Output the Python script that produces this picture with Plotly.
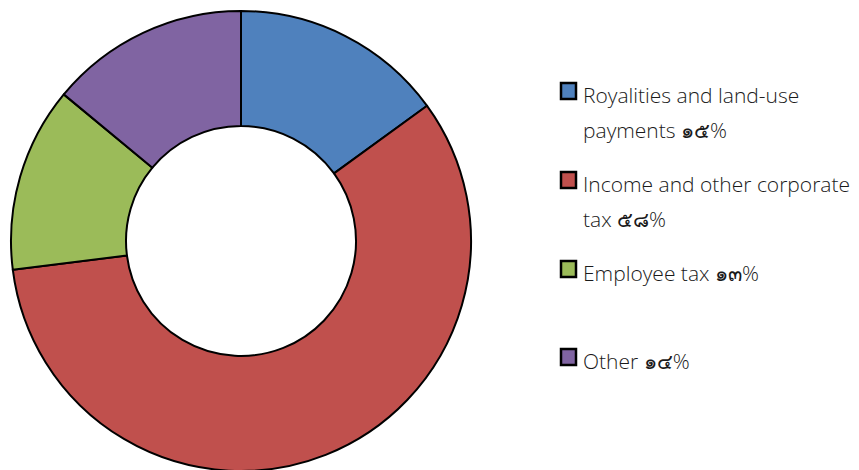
import plotly.graph_objects as go

labels = ["Royalities and land-use payments", "Income and other corporate tax",
          "Employee tax", "Other"]
values = [15, 58, 13, 14]
colors = ["#4F81BD", "#C0504D", "#9BBB59", "#8064A2"]
# legend text lines (wrapped as in reference)
legend_lines = [["Royalities and land-use", "payments {v}"],
                ["Income and other corporate", "tax {v}"],
                ["Employee tax {v}"],
                ["Other {v}"]]

THAI = "๐๑๒๓๔๕๖๗๘๙"
def thai_num(n):
    return "".join(THAI[int(d)] for d in str(n))

W, H = 859, 470
OFF = 8  # page body margin
fig = go.Figure(go.Pie(
    labels=labels, values=values, hole=0.5, sort=False, direction="clockwise",
    rotation=0, textinfo="none", hoverinfo="label+percent",
    marker=dict(colors=colors, line=dict(color="black", width=2)),
    domain=dict(x=[(10 - OFF) / W, (472 - OFF) / W],
                y=[1 - (471 - OFF) / H, 1 - (11 - OFF) / H]),
    showlegend=False,
))

font_family = "Open Sans, Noto Sans, sans-serif"
item_centers = [94, 183, 272, 360]
line_gap = 35
shapes = []
annotations = []
for i, lines in enumerate(legend_lines):
    c = item_centers[i] - OFF
    shapes.append(dict(type="rect", xref="paper", yref="paper",
                       x0=(561 - OFF) / W, x1=(576 - OFF) / W,
                       y0=1 - (c - 11) / H, y1=1 - (c + 5) / H,
                       fillcolor=colors[i], line=dict(color="black", width=2.5)))
    for j, ln in enumerate(lines):
        annotations.append(dict(
            text=ln.format(v=thai_num(values[i]) + "%"), xref="paper", yref="paper",
            x=(581 - OFF) / W, y=1 - (c + 1 + j * line_gap) / H, xanchor="left", yanchor="middle",
            showarrow=False,
            font=dict(family=font_family, size=21, weight=300, color="#1a1a1a")))

fig.update_layout(width=W, height=H, margin=dict(l=0, r=0, t=0, b=0),
                  paper_bgcolor="white", plot_bgcolor="white",
                  shapes=shapes, annotations=annotations)
fig.write_html("out.html")
